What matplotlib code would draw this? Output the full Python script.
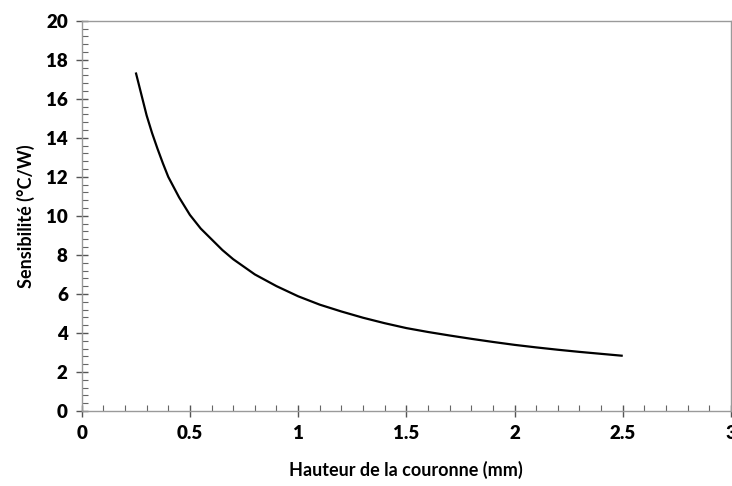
import numpy as np
from matplotlib import pyplot as plt
from matplotlib.ticker import MultipleLocator

# values
hauteur = [0.25, 0.275, 0.3, 0.325, 0.35, 0.375, 0.4, 0.45, 0.5, 0.55, 0.6, 0.65,
           0.7, 0.8, 0.9, 1.0, 1.1, 1.2, 1.3, 1.4, 1.5, 1.6, 1.7, 1.8, 1.9,
           2.0, 2.1, 2.2, 2.3, 2.4, 2.5]
sensibilite = [17.35, 16.25, 15.15, 14.25, 13.45, 12.7, 12.0, 10.95, 10.05, 9.35,
               8.8, 8.25, 7.78, 7.0, 6.4, 5.88, 5.45, 5.1, 4.78, 4.5, 4.25, 4.05,
               3.87, 3.7, 3.54, 3.39, 3.26, 3.14, 3.03, 2.93, 2.83]

x_ticks = [0, 0.5, 1, 1.5, 2, 2.5, 3]
x_labels = ['0', '0.5', '1', '1.5', '2', '2.5', '3']
y_ticks = [0, 2, 4, 6, 8, 10, 12, 14, 16, 18, 20]

plt.rcParams['font.family'] = ['Lato', 'DejaVu Sans']

fig = plt.figure(figsize=(7.32, 4.86), dpi=100)
ax = fig.add_axes([0.1116, 0.1543, 0.8870, 0.8030])

ax.plot(hauteur, sensibilite, color='black', lw=1.6, solid_capstyle='butt')

ax.set_xlim(0, 3)
ax.set_ylim(0, 20)
ax.set_xticks(x_ticks)
ax.set_xticklabels(x_labels)
ax.set_yticks(y_ticks)
ax.xaxis.set_minor_locator(MultipleLocator(0.1))
ax.yaxis.set_minor_locator(MultipleLocator(0.4))

for s in ax.spines.values():
    s.set_color('#9a9a9a')
    s.set_linewidth(1.0)

ax.tick_params(which='major', direction='inout', length=8, width=1.0,
               color='#555555', labelsize=13.5, pad=6)
ax.tick_params(which='minor', direction='in', length=4, width=0.8,
               color='#666666')
for lab in ax.get_xticklabels() + ax.get_yticklabels():
    lab.set_fontweight('heavy')

ax.set_xlabel('Hauteur de la couronne (mm)', fontsize=13, fontweight='bold',
              labelpad=14)
ax.set_ylabel('Sensibilité (°C/W)', fontsize=13, fontweight='bold', labelpad=8)

fig.savefig('out.png', dpi=100)
